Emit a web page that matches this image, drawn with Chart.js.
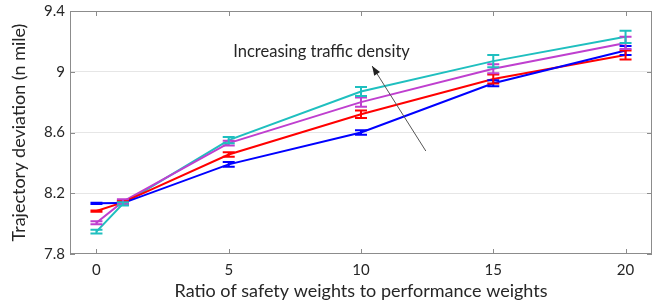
<!DOCTYPE html>
<html>
<head>
<meta charset="utf-8">
<script src="https://cdn.jsdelivr.net/npm/chart.js@4.4.0/dist/chart.umd.min.js"></script>
<style>
html, body { margin: 0; padding: 0; background: #fff; }
#wrap { width: 658px; height: 306px; }
</style>
</head>
<body>
<div id="wrap"><canvas id="c"></canvas></div>
<script>
// x 값 (안전 가중치 비율)
const ratios = [0, 1, 5, 10, 15, 20];

// 각 계열 평균값
const blueVals = [8.134, 8.135, 8.39, 8.60, 8.924, 9.14];
const redVals = [8.083, 8.14, 8.455, 8.72, 8.952, 9.11];
const magentaVals = [8.006, 8.145, 8.53, 8.80, 9.02, 9.19];
const cyanVals = [7.947, 8.13, 8.55, 8.87, 9.07, 9.23];

// 오차 막대 (반폭)
const blueErr = [0.004, 0.01, 0.015, 0.015, 0.02, 0.03];
const redErr = [0.004, 0.01, 0.015, 0.025, 0.03, 0.03];
const magentaErr = [0.01, 0.015, 0.015, 0.03, 0.03, 0.04];
const cyanErr = [0.012, 0.01, 0.02, 0.03, 0.04, 0.04];

// 눈금
const xTicks = [0, 5, 10, 15, 20];
const yTicks = [7.8, 8.2, 8.6, 9.0, 9.4];

// 주석 (데이터 좌표)
const noteText = 'Increasing traffic density';
const notePos = [5.17, 9.13];
const arrowFrom = [12.45, 8.478];
const arrowTo = [10.42, 9.038];

const FONT = 'Lato, "Open Sans", sans-serif';
const TEXT = '#262626';
const BORDER = '#8c8c8c';

function series(vals, errs, color) {
    return {
        data: ratios.map((x, i) => ({ x: x, y: vals[i] })),
        errs: errs,
        borderColor: color,
        backgroundColor: color,
        borderWidth: 2,
        pointRadius: 0,
        showLine: true,
        tension: 0
    };
}

// 오차 막대 그리기
const errorBars = {
    id: 'errorBars',
    afterDatasetsDraw(chart) {
        const ctx = chart.ctx;
        const xs = chart.scales.x, ys = chart.scales.y;
        ctx.save();
        chart.data.datasets.forEach(ds => {
            ctx.strokeStyle = ds.borderColor;
            ctx.lineWidth = 2;
            ds.data.forEach((p, i) => {
                const px = xs.getPixelForValue(p.x);
                const top = ys.getPixelForValue(p.y + ds.errs[i]);
                const bot = ys.getPixelForValue(p.y - ds.errs[i]);
                ctx.beginPath();
                ctx.moveTo(px, top); ctx.lineTo(px, bot);
                ctx.moveTo(px - 6, top); ctx.lineTo(px + 6, top);
                ctx.moveTo(px - 6, bot); ctx.lineTo(px + 6, bot);
                ctx.stroke();
            });
        });
        ctx.restore();
    }
};

// 테두리와 안쪽 눈금
const frame = {
    id: 'frame',
    afterDraw(chart) {
        const ctx = chart.ctx;
        const a = chart.chartArea;
        const xs = chart.scales.x, ys = chart.scales.y;
        ctx.save();
        ctx.strokeStyle = BORDER;
        ctx.lineWidth = 1;
        ctx.strokeRect(a.left + 0.5, a.top + 0.5, a.right - a.left - 1, a.bottom - a.top - 1);
        ctx.beginPath();
        xTicks.forEach(v => {
            const px = Math.round(xs.getPixelForValue(v)) + 0.5;
            ctx.moveTo(px, a.bottom); ctx.lineTo(px, a.bottom - 5);
            ctx.moveTo(px, a.top); ctx.lineTo(px, a.top + 5);
        });
        yTicks.forEach(v => {
            const py = Math.round(ys.getPixelForValue(v)) + 0.5;
            ctx.moveTo(a.left, py); ctx.lineTo(a.left + 5, py);
            ctx.moveTo(a.right, py); ctx.lineTo(a.right - 5, py);
        });
        ctx.stroke();

        // 주석 화살표
        const x1 = xs.getPixelForValue(arrowFrom[0]), y1 = ys.getPixelForValue(arrowFrom[1]);
        const x2 = xs.getPixelForValue(arrowTo[0]), y2 = ys.getPixelForValue(arrowTo[1]);
        const ang = Math.atan2(y2 - y1, x2 - x1);
        ctx.strokeStyle = '#555';
        ctx.beginPath();
        ctx.moveTo(x1, y1); ctx.lineTo(x2, y2);
        ctx.stroke();
        ctx.fillStyle = '#222';
        ctx.beginPath();
        ctx.moveTo(x2, y2);
        ctx.lineTo(x2 - 10 * Math.cos(ang - 0.35), y2 - 10 * Math.sin(ang - 0.35));
        ctx.lineTo(x2 - 10 * Math.cos(ang + 0.35), y2 - 10 * Math.sin(ang + 0.35));
        ctx.closePath();
        ctx.fill();

        ctx.fillStyle = TEXT;
        ctx.font = '16.5px ' + FONT;
        ctx.textAlign = 'left';
        ctx.textBaseline = 'middle';
        ctx.fillText(noteText, xs.getPixelForValue(notePos[0]), ys.getPixelForValue(notePos[1]));
        ctx.restore();
    }
};

new Chart(document.getElementById('c'), {
    type: 'scatter',
    data: {
        datasets: [
            series(blueVals, blueErr, '#0000ff'),
            series(redVals, redErr, '#ff0000'),
            series(magentaVals, magentaErr, '#bf3fcf'),
            series(cyanVals, cyanErr, '#1fbfbf')
        ]
    },
    options: {
        responsive: true,
        maintainAspectRatio: false,
        animation: false,
        layout: { padding: { top: 11, right: 6, left: 0, bottom: 0 } },
        plugins: { legend: { display: false }, tooltip: { enabled: false } },
        scales: {
            x: {
                type: 'linear',
                min: -1,
                max: 21,
                afterBuildTicks: s => { s.ticks = xTicks.map(v => ({ value: v })); },
                afterFit: s => { s.height = 52; s.paddingLeft = 0; s.paddingRight = 0; },
                grid: { display: false, drawTicks: false },
                border: { display: false },
                ticks: { color: TEXT, font: { family: FONT, size: 15 }, padding: 7, maxRotation: 0 },
                title: {
                    display: true,
                    text: 'Ratio of safety weights to performance weights',
                    color: TEXT,
                    font: { family: FONT, size: 18 },
                    padding: { top: 2 }
                }
            },
            y: {
                min: 7.8,
                max: 9.4,
                afterBuildTicks: s => { s.ticks = yTicks.map(v => ({ value: v })); },
                afterFit: s => { s.width = 70; s.paddingTop = 0; s.paddingBottom = 0; },
                grid: {
                    drawTicks: false,
                    color: ctx => (ctx.tick && (ctx.tick.value === 7.8 || ctx.tick.value === 9.4)) ? 'rgba(0,0,0,0)' : '#e6e6e6'
                },
                border: { display: false },
                ticks: {
                    color: TEXT,
                    font: { family: FONT, size: 15 },
                    padding: 5,
                    callback: v => String(v)
                },
                title: {
                    display: true,
                    text: 'Trajectory deviation (n mile)',
                    color: TEXT,
                    font: { family: FONT, size: 18 },
                    padding: { top: 8, bottom: 0 }
                }
            }
        }
    },
    plugins: [errorBars, frame]
});
</script>
</body>
</html>
